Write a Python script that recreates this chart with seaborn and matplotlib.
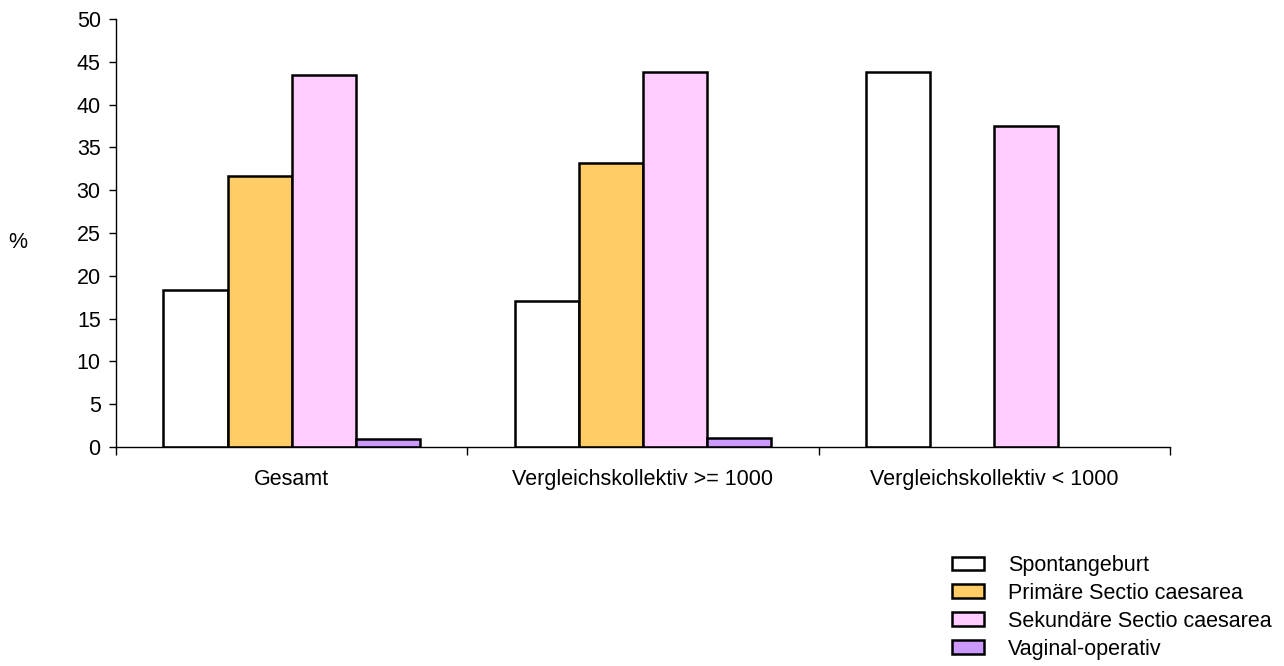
import numpy as np
import pandas as pd
import seaborn as sns
import matplotlib.pyplot as plt
from matplotlib.patches import Patch
from matplotlib.ticker import FixedLocator, NullFormatter

# Daten
gruppen = ["Gesamt", "Vergleichskollektiv >= 1000", "Vergleichskollektiv < 1000"]
arten = ["Spontangeburt", "Primäre Sectio caesarea", "Sekundäre Sectio caesarea", "Vaginal-operativ"]
spontan = [18.3, 17.1, 43.8]
primaer = [31.7, 33.2, 0.0]
sekundaer = [43.5, 43.8, 37.5]
vaginal = [0.9, 1.0, 0.0]
farben = ["#FFFFFF", "#FFCC66", "#FFCCFF", "#CC99FF"]

df = pd.DataFrame({
    "Gruppe": gruppen * 4,
    "Art": np.repeat(arten, len(gruppen)),
    "Wert": spontan + primaer + sekundaer + vaginal,
})

sns.set_style("white", {"text.color": "black", "axes.labelcolor": "black",
                        "xtick.color": "black", "ytick.color": "black"})
plt.rcParams["font.family"] = ["Liberation Sans", "DejaVu Sans"]
fs = 15.5

fig = plt.figure(figsize=(12.84, 6.66), dpi=100)
ax = fig.add_axes([116 / 1284, 1 - 447 / 666, (1170 - 116) / 1284, (447 - 19) / 666])

sns.barplot(data=df, x="Gruppe", y="Wert", hue="Art", order=gruppen, hue_order=arten,
            palette=farben, width=0.73, gap=0, edgecolor="black", linewidth=1.8,
            saturation=1, ax=ax, legend=False)

# Balken ohne Wert ausblenden
for p in ax.patches:
    if p.get_height() == 0:
        p.set_visible(False)

ax.set_xlim(-0.5, 2.5)
ax.set_ylim(0, 50)
ax.set_yticks(np.arange(0, 51, 5))
ax.set_xlabel("")
ax.set_ylabel("%", rotation=0, fontsize=fs, va="center", ha="center")
ax.yaxis.set_label_coords(-0.093, 0.477)

ax.xaxis.set_major_locator(FixedLocator([-0.5, 0.5, 1.5, 2.5]))
ax.xaxis.set_major_formatter(NullFormatter())
ax.xaxis.set_minor_locator(FixedLocator([0, 1, 2]))
ax.set_xticklabels(gruppen, minor=True)
ax.tick_params(axis="x", which="major", direction="out", length=6, width=1, color="black")
ax.tick_params(axis="x", which="minor", length=0, pad=15.5, labelsize=fs, labelcolor="black")
ax.tick_params(axis="y", direction="out", length=5, width=1, color="black", labelsize=fs,
               pad=6, labelcolor="black")
ax.yaxis.set_ticks_position("left")
ax.xaxis.set_ticks_position("bottom")

for s in ["top", "right"]:
    ax.spines[s].set_visible(False)
for s in ["left", "bottom"]:
    ax.spines[s].set_color("black")
    ax.spines[s].set_linewidth(1)

handles = [Patch(facecolor=c, edgecolor="black", linewidth=1.8) for c in farben]
fig.legend(handles, arten, loc="upper left", bbox_to_anchor=(952 / 1284, 1 - 555 / 666),
           frameon=False, fontsize=fs, handlelength=1.5, handleheight=0.6,
           labelspacing=0.32, handletextpad=1.1, borderaxespad=0, borderpad=0)

fig.savefig("out.png", dpi=100, facecolor="white")
